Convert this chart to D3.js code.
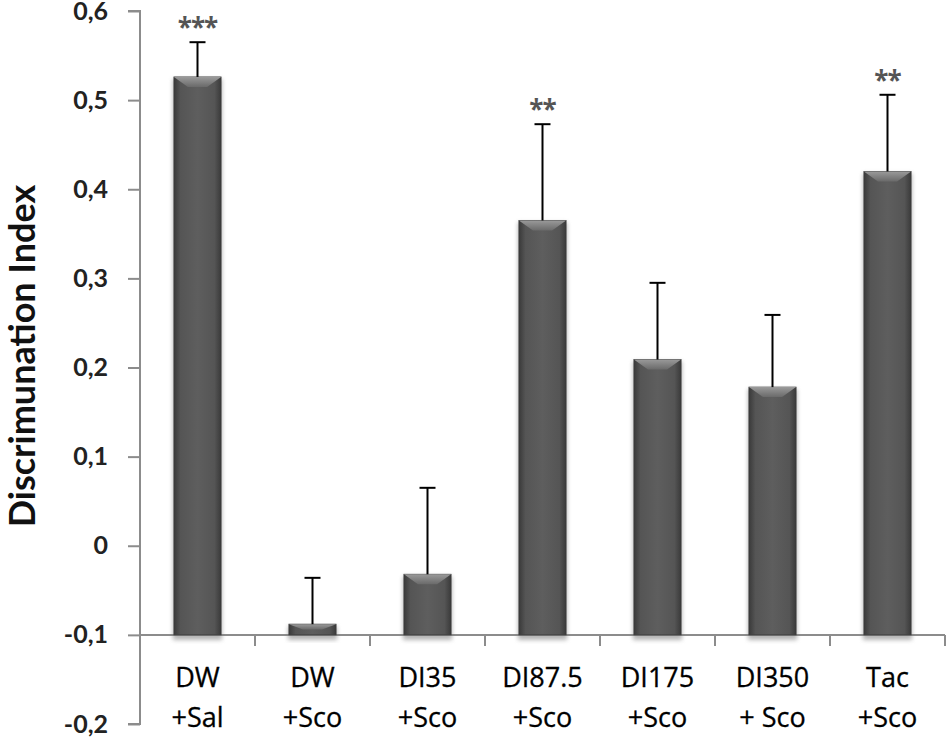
<!DOCTYPE html>
<html>
<head>
<meta charset="utf-8">
<script src="https://cdn.jsdelivr.net/npm/d3@7"></script>
<style>
  body { margin: 0; background: #fff; }
  svg { display: block; font-family: "Open Sans", Lato, sans-serif; }
</style>
</head>
<body>
<svg id="chart" width="951" height="746"></svg>
<script>
// Data
const groups   = ['DW|+Sal', 'DW|+Sco', 'DI35|+Sco', 'DI87.5|+Sco', 'DI175|+Sco', 'DI350|+ Sco', 'Tac|+Sco'];
const values   = [0.526, -0.088, -0.032, 0.365, 0.209, 0.178, 0.420];
const errors   = [0.039, 0.052, 0.097, 0.108, 0.086, 0.081, 0.086];
const stars    = ['***', '', '', '**', '', '', '**'];
const yTicks   = [-0.2, -0.1, 0, 0.1, 0.2, 0.3, 0.4, 0.5, 0.6];

const svg = d3.select('#chart');
const plotL = 140, plotR = 945, plotT = 11, plotB = 724;
const baseVal = -0.1; // horizontal axis crosses here

const y = d3.scaleLinear().domain([-0.2, 0.6]).range([plotB, plotT]);
const x = d3.scaleBand().domain(groups).range([plotL, plotR]).paddingInner(0.59).paddingOuter(0.295);
const xStep = d3.scaleBand().domain(groups).range([plotL, plotR]);

// Gradients
const defs = svg.append('defs');
const gBody = defs.append('linearGradient').attr('id', 'bar-body').attr('x1', 0).attr('x2', 1).attr('y1', 0).attr('y2', 0);
gBody.append('stop').attr('offset', '0%').attr('stop-color', '#3a3a3a');
gBody.append('stop').attr('offset', '14%').attr('stop-color', '#555');
gBody.append('stop').attr('offset', '50%').attr('stop-color', '#5e5e5e');
gBody.append('stop').attr('offset', '86%').attr('stop-color', '#555');
gBody.append('stop').attr('offset', '100%').attr('stop-color', '#3a3a3a');
const gTop = defs.append('linearGradient').attr('id', 'bar-top').attr('x1', 0).attr('x2', 0).attr('y1', 0).attr('y2', 1);
gTop.append('stop').attr('offset', '0%').attr('stop-color', '#9a9a9a');
gTop.append('stop').attr('offset', '100%').attr('stop-color', '#6a6a6a');
const blur = defs.append('filter').attr('id', 'shadow').attr('x', '-20%').attr('y', '-20%').attr('width', '140%').attr('height', '140%');
blur.append('feGaussianBlur').attr('stdDeviation', 2);

// Y axis
const fmt = d => (Math.abs(d) < 1e-9 ? '0' : d3.format('.1f')(d).replace('.', ',').replace('\u2212', '-'));
const yAxis = svg.append('g').attr('transform', `translate(${plotL},0)`)
  .call(d3.axisLeft(y).tickValues(yTicks).tickSize(12).tickPadding(20).tickFormat(fmt));
yAxis.select('.domain').attr('stroke', '#8c8c8c').attr('stroke-width', 2).attr('d', `M-12,${y(-0.2)}H0V${y(0.6)}H-12`);
yAxis.selectAll('.tick line').attr('stroke', '#8c8c8c').attr('stroke-width', 2);
yAxis.selectAll('.tick text').attr('font-size', 25).attr('font-weight', 700).attr('fill', '#222')
  .attr('font-family', 'Lato, sans-serif');

// X axis line at -0.1
const yb = y(baseVal);
svg.append('line').attr('x1', plotL).attr('x2', plotR).attr('y1', yb).attr('y2', yb)
  .attr('stroke', '#8c8c8c').attr('stroke-width', 2);
groups.forEach(g => {
  const xr = xStep(g) + xStep.bandwidth();
  svg.append('line').attr('x1', xr).attr('x2', xr).attr('y1', yb).attr('y2', yb + 11)
    .attr('stroke', '#8c8c8c').attr('stroke-width', 2);
});

// Bars
const bars = svg.append('g');
groups.forEach((g, i) => {
  const bx = x(g), bw = x.bandwidth();
  const yt = y(values[i]);
  const h = yb - yt;
  bars.append('rect').attr('x', bx - 1).attr('y', yt + 2).attr('width', bw + 2).attr('height', h + 3)
    .attr('fill', '#777').attr('opacity', 0.55).attr('filter', 'url(#shadow)');
  bars.append('rect').attr('x', bx).attr('y', yt).attr('width', bw).attr('height', h)
    .attr('fill', 'url(#bar-body)').attr('stroke', '#3a3a3a').attr('stroke-width', 0.8);
  const bev = Math.min(10, h / 2), inset = Math.min(14, bw / 3);
  bars.append('path')
    .attr('d', `M${bx},${yt}H${bx + bw}L${bx + bw - inset},${yt + bev}H${bx + inset}Z`)
    .attr('fill', 'url(#bar-top)');
});

// Error bars
const err = svg.append('g').attr('stroke', '#000').attr('stroke-width', 2);
groups.forEach((g, i) => {
  const cx = x(g) + x.bandwidth() / 2;
  const yt = y(values[i] + errors[i]);
  err.append('line').attr('x1', cx).attr('x2', cx).attr('y1', y(values[i])).attr('y2', yt);
  err.append('line').attr('x1', cx - 8).attr('x2', cx + 8).attr('y1', yt).attr('y2', yt);
});

// Significance stars
groups.forEach((g, i) => {
  if (!stars[i]) return;
  svg.append('text')
    .attr('x', x(g) + x.bandwidth() / 2)
    .attr('y', y(values[i] + errors[i]) - 5)
    .attr('text-anchor', 'middle').attr('font-size', 26).attr('font-weight', 700)
    .attr('letter-spacing', -1).attr('fill', '#555')
    .text(stars[i]);
});

// Category labels
groups.forEach(g => {
  const [l1, l2] = g.split('|');
  const cx = xStep(g) + xStep.bandwidth() / 2;
  const t = svg.append('text').attr('text-anchor', 'middle').attr('font-size', 27)
    .attr('fill', '#000').attr('stroke', '#000').attr('stroke-width', 0.3);
  t.append('tspan').attr('x', cx).attr('y', 687).text(l1);
  t.append('tspan').attr('x', cx).attr('y', 727).text(l2);
});

// Y title
svg.append('text')
  .attr('transform', `translate(35,356) rotate(-90)`)
  .attr('text-anchor', 'middle').attr('font-size', 36).attr('font-weight', 700).attr('fill', '#111')
  .attr('font-family', 'Lato, sans-serif')
  .text('Discrimunation Index');
</script>
</body>
</html>
